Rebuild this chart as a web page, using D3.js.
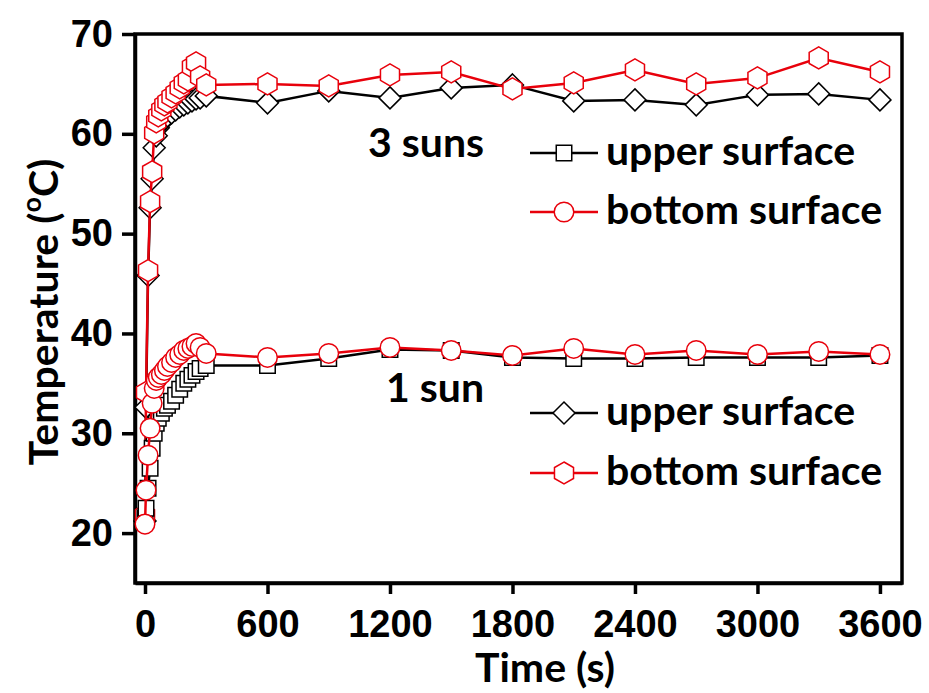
<!DOCTYPE html>
<html>
<head>
<meta charset="utf-8">
<script src="https://cdn.jsdelivr.net/npm/d3@7"></script>
<style>
  body { margin: 0; background: #fff; }
  svg { font-family: Lato, "Open Sans", sans-serif; font-weight: bold; }
  .axis text { font-size: 38px; font-weight: bold; fill: #000; }
  .axis path, .axis line { stroke: #000; stroke-width: 3.5px; }
</style>
</head>
<body>
<svg width="929" height="693"></svg>
<script>
// time (s) shared by all four series
const times = [0, 5, 15, 25, 35, 45, 55, 65, 80, 95, 110, 130, 150, 170, 190, 210, 230, 250, 270, 300,
    600, 900, 1200, 1500, 1800, 2100, 2400, 2700, 3000, 3300, 3600];

// 3 suns
const sun3Upper = [21.2, 32.6, 45.8, 52.6, 55.5, 58.6, 59.8, 60.6, 61.1, 61.5, 61.8, 62.1, 62.4, 62.7, 62.9, 63.1, 63.3, 63.5, 63.6, 63.8,
    63.1, 64.3, 63.6, 64.6, 64.9, 63.3, 63.4, 62.9, 63.9, 64.0, 63.4];
const sun3Bottom = [21.8, 34.1, 46.3, 53.2, 56.2, 60.1, 61.2, 61.8, 62.4, 62.9, 63.2, 63.7, 64.1, 64.6, 65.1, 65.4, 66.7, 67.1, 65.7, 64.9,
    65.0, 64.8, 65.9, 66.2, 64.5, 65.1, 66.4, 65.0, 65.6, 67.6, 66.2];

// 1 sun
const sun1Upper = [21.5, 22.5, 24.5, 26.5, 28.5, 30.0, 31.0, 31.5, 32.0, 32.5, 32.8, 33.2, 33.8, 34.4, 35.0, 35.4, 35.8, 36.2, 36.5, 36.8,
    36.8, 37.5, 38.4, 38.3, 37.6, 37.5, 37.5, 37.6, 37.6, 37.6, 37.8];
const sun1Bottom = [20.9, 24.3, 27.8, 30.5, 33.0, 34.5, 35.3, 35.6, 35.9, 36.3, 36.7, 37.1, 37.6, 37.9, 38.3, 38.5, 38.7, 39.0, 38.6, 38.0,
    37.6, 38.0, 38.6, 38.3, 37.8, 38.5, 37.9, 38.3, 37.9, 38.2, 37.9];

const xTicks = [0, 600, 1200, 1800, 2400, 3000, 3600];
const yTicks = [20, 30, 40, 50, 60, 70];

const svg = d3.select('svg');

const plotL = 135, plotR = 902, plotT = 34, plotB = 583;

const x = d3.scaleLinear().domain([-49, 3708]).range([plotL, plotR]);
const y = d3.scaleLinear().domain([15, 70]).range([plotB, plotT]);

// frame
svg.append('rect')
    .attr('x', plotL).attr('y', plotT)
    .attr('width', plotR - plotL).attr('height', plotB - plotT)
    .attr('fill', 'none').attr('stroke', '#000').attr('stroke-width', 3.5);

svg.append('g')
    .attr('class', 'axis')
    .attr('transform', `translate(0, ${plotB})`)
    .call(d3.axisBottom(x).tickValues(xTicks).tickFormat(d3.format('d'))
        .tickSize(11).tickPadding(16).tickSizeOuter(0));

svg.append('g')
    .attr('class', 'axis')
    .attr('transform', `translate(${plotL}, 0)`)
    .call(d3.axisLeft(y).tickValues(yTicks).tickFormat(d3.format('d'))
        .tickSize(13).tickPadding(9).tickSizeOuter(0));

// marker shapes
const hexPath = (r) => {
    const pts = d3.range(6).map(i => {
        const a = Math.PI / 3 * i - Math.PI / 2;
        return [r * Math.cos(a), r * Math.sin(a)];
    });
    return 'M' + pts.map(p => p.join(',')).join('L') + 'Z';
};
const shapes = {
    square: d3.symbol(d3.symbolSquare, 240)(),
    circle: d3.symbol(d3.symbolCircle, 300)(),
    diamond: 'M0,-11L11,0L0,11L-11,0Z',
    hexagon: hexPath(11)
};

const red = '#e8000b';

const series = [
    { values: sun3Upper, color: '#000', shape: 'diamond' },
    { values: sun3Bottom, color: red, shape: 'hexagon' },
    { values: sun1Upper, color: '#000', shape: 'square' },
    { values: sun1Bottom, color: red, shape: 'circle' }
];

const line = d3.line()
    .x((d, i) => x(times[i]))
    .y(d => y(d));

series.forEach(s => {
    const g = svg.append('g');
    g.append('path')
        .attr('d', line(s.values))
        .attr('fill', 'none')
        .attr('stroke', s.color)
        .attr('stroke-width', 2.5);
    g.selectAll('path.m')
        .data(s.values)
        .enter()
        .append('path')
        .attr('class', 'm')
        .attr('transform', (d, i) => `translate(${x(times[i])}, ${y(d)})`)
        .attr('d', shapes[s.shape])
        .attr('fill', '#fff')
        .attr('stroke', s.color)
        .attr('stroke-width', 1.5);
});

// legends (as drawn in the original)
const legends = [
    { title: '3 suns', tx: 368, ty: 157, rows: [
        { label: 'upper surface', color: '#000', shape: 'square', y: 153 },
        { label: 'bottom surface', color: red, shape: 'circle', y: 212 }
    ]},
    { title: '1 sun', tx: 386, ty: 402, rows: [
        { label: 'upper surface', color: '#000', shape: 'diamond', y: 413 },
        { label: 'bottom surface', color: red, shape: 'hexagon', y: 473 }
    ]}
];

legends.forEach(lg => {
    svg.append('text')
        .attr('x', lg.tx).attr('y', lg.ty)
        .attr('font-size', 41)
        .text(lg.title);
    lg.rows.forEach(r => {
        svg.append('line')
            .attr('x1', 530).attr('x2', 598)
            .attr('y1', r.y).attr('y2', r.y)
            .attr('stroke', r.color).attr('stroke-width', 2.5);
        svg.append('path')
            .attr('transform', `translate(564, ${r.y})`)
            .attr('d', shapes[r.shape])
            .attr('fill', '#fff')
            .attr('stroke', r.color)
            .attr('stroke-width', 1.5);
        svg.append('text')
            .attr('x', 606).attr('y', r.y + 12)
            .attr('font-size', 41)
            .text(r.label);
    });
});

// axis titles
svg.append('text')
    .attr('x', 545).attr('y', 682)
    .attr('text-anchor', 'middle')
    .attr('font-size', 41)
    .text('Time (s)');

const yl = svg.append('text')
    .attr('transform', 'translate(58, 312) rotate(-90)')
    .attr('text-anchor', 'middle')
    .attr('font-size', 41);
yl.append('tspan').text('Temperature (');
yl.append('tspan').attr('font-size', 27).attr('dy', -17).text('o');
yl.append('tspan').attr('dy', 17).text('C)');
</script>
</body>
</html>
